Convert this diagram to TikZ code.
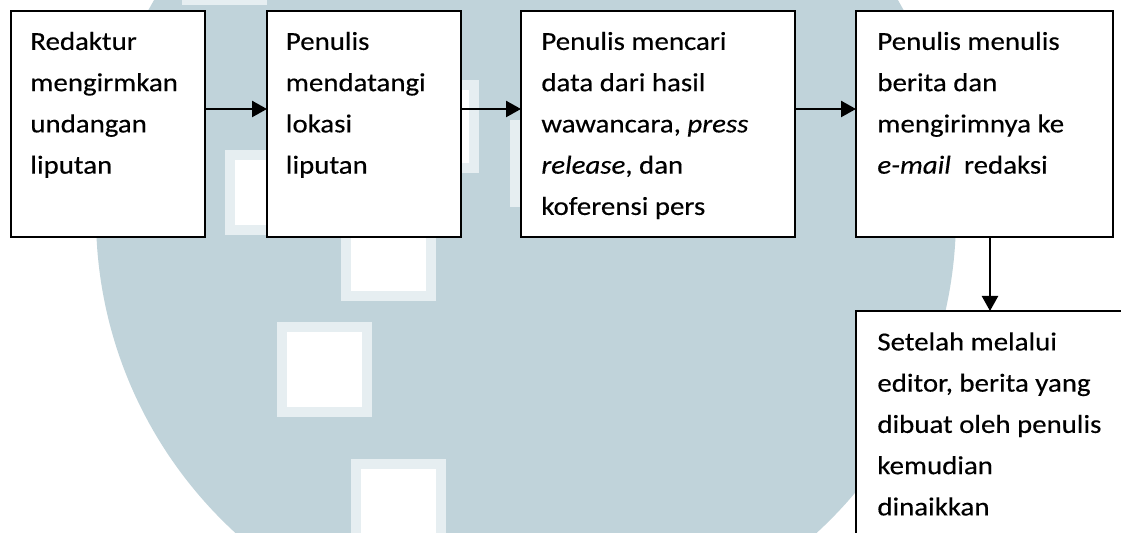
\documentclass[tikz,border=0pt]{standalone}
\usepackage{fontspec}
\setmainfont{Carlito}[FakeStretch=1.11,FakeBold=0.3]
\usetikzlibrary{arrows.meta}
\definecolor{wm}{RGB}{192,211,218}
\definecolor{wmedge}{RGB}{230,238,241}
\begin{document}
\begin{tikzpicture}[x=0.5pt,y=-0.5pt,
  box/.style={draw=black, line width=1.2pt, fill=white, anchor=north west, inner sep=0pt, outer sep=0pt},
  txt/.style={anchor=north west, inner sep=0pt, align=left, font=\fontsize{13}{20.625}\selectfont},
  arr/.style={line width=1.2pt, -{Triangle[length=7.5pt,width=8pt]}},
  sq/.style={fill=white, draw=wmedge, line width=5pt}]
\useasboundingbox (0,0) rectangle (1121,533);
\clip (0,0) rectangle (1121,533);
\fill[white] (0,0) rectangle (1121,533);
% watermark
\fill[wm] (526,216) circle [radius=215pt];
\path[sq] (282,327) rectangle (367,412);
\path[sq] (356,464) rectangle (441,580);
\path[sq] (346,214) rectangle (431,296);
\path[sq] (230,155) rectangle (315,230);
\path[sq] (187,-80) rectangle (262,0);
\path[sq] (390,85) rectangle (474,168);
\path[sq] (515,125) rectangle (600,202);
% boxes
\node[box, minimum width=97pt, minimum height=113pt] (b1) at (11,11) {};
\node[box, minimum width=97pt, minimum height=113pt] (b2) at (267,11) {};
\node[box, minimum width=137pt, minimum height=113pt] (b3) at (521,11) {};
\node[box, minimum width=128.5pt, minimum height=113pt] (b4) at (856,11) {};
\node[box, minimum width=150pt, minimum height=150pt] (b5) at (856,311) {};
% texts
\node[txt] (t1) at ([shift={(19,10.5)}]b1.north west) {\rule{0pt}{14pt}Redaktur\\mengirmkan\\undangan\\liputan};
\node[txt] (t2) at ([shift={(18.5,10.5)}]b2.north west) {\rule{0pt}{14pt}Penulis\\mendatangi\\lokasi\\liputan};
\node[txt] (t3) at ([shift={(20,10.5)}]b3.north west) {\rule{0pt}{14pt}Penulis mencari\\data dari hasil\\wawancara, \textit{press}\\\textit{release}, dan\\koferensi pers};
\node[txt] (t4) at ([shift={(21,10.5)}]b4.north west) {\rule{0pt}{14pt}Penulis menulis\\berita dan\\mengirimnya ke\\\textit{e-mail}\ \ redaksi};
\node[txt] (t5) at ([shift={(21,11)}]b5.north west) {\rule{0pt}{14pt}Setelah melalui\\editor, berita yang\\dibuat oleh penulis\\kemudian\\dinaikkan};
% connectors
\coordinate (ay) at (0,109);
\coordinate (dx) at (990,0);
\draw[arr] (b1.east |- ay) -- (b2.west |- ay);
\draw[arr] (b2.east |- ay) -- (b3.west |- ay);
\draw[arr] (b3.east |- ay) -- (b4.west |- ay);
\draw[arr] (b4.south -| dx) -- (b5.north -| dx);
\end{tikzpicture}
\end{document}
